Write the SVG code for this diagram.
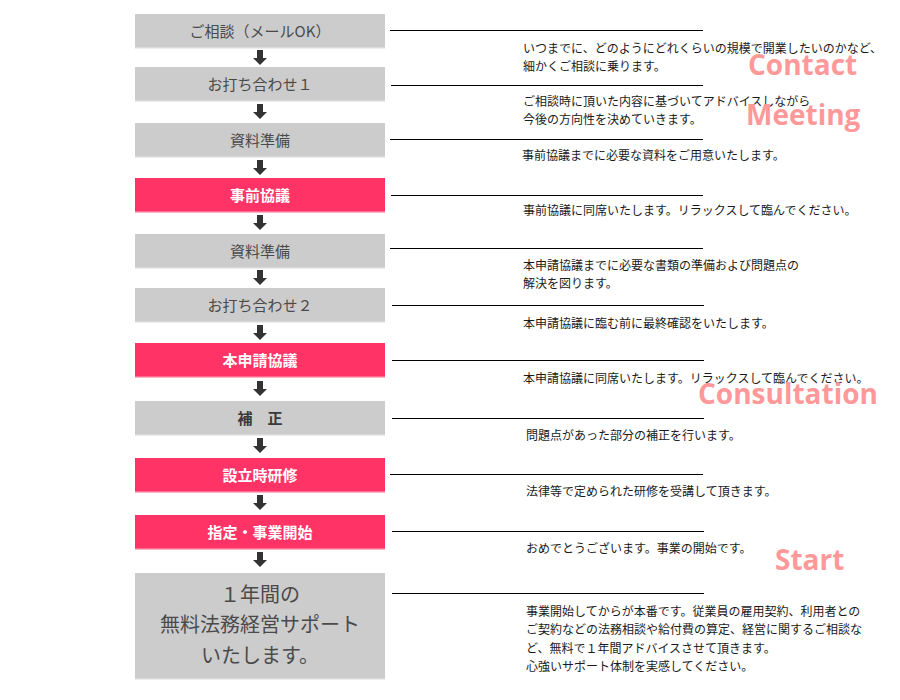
<svg xmlns="http://www.w3.org/2000/svg" width="900" height="700" viewBox="0 0 900 700">
<defs>
<style>
.g{fill:#cccccc}
.p{fill:#ff3366}
.ge{fill:#d9d9d9}
.pe{fill:#ff6b8e}
.lab{font-family:"Noto Sans CJK JP","Noto Sans",sans-serif;font-size:15px;text-anchor:middle;fill:#4a4a4a}
.labw{font-family:"Noto Sans CJK JP","Noto Sans",sans-serif;font-size:15px;text-anchor:middle;fill:#ffffff;font-weight:bold}
.labb{font-family:"Noto Sans CJK JP","Noto Sans",sans-serif;font-size:15px;text-anchor:middle;fill:#3a3a3a;font-weight:bold}
.big{font-family:"Noto Sans CJK JP","Noto Sans",sans-serif;font-size:20px;text-anchor:middle;fill:#4a4a4a}
.d{font-family:"Noto Sans CJK JP","Noto Sans",sans-serif;font-size:12px;fill:#1a1a1a}
.en{font-family:"Open Sans","Liberation Sans",sans-serif;font-size:28px;font-weight:bold;fill:#ff9999}
.ln{stroke:#000;stroke-width:1.2}
.ar{fill:#333333}
</style>
<g id="arrow">
<rect x="-3" y="0" width="6" height="8.5"/>
<polygon points="-7,8 7,8 0,15"/>
</g>
</defs>
<rect width="900" height="700" fill="#ffffff"/>

<g id="n1"><rect class="g" x="135" y="14" width="250" height="34"/><rect class="ge" x="135" y="47" width="250" height="1.5"/><text class="lab" x="260" y="36.7">ご相談（メールOK）</text></g>
<g id="n2"><rect class="g" x="135" y="67" width="250" height="34"/><rect class="ge" x="135" y="100" width="250" height="1.5"/><text class="lab" x="260" y="89.7">お打ち合わせ１</text></g>
<g id="n3"><rect class="g" x="135" y="123" width="250" height="34"/><rect class="ge" x="135" y="156" width="250" height="1.5"/><text class="lab" x="260" y="145.7">資料準備</text></g>
<g id="n4"><rect class="p" x="135" y="178" width="250" height="34"/><rect class="pe" x="135" y="211" width="250" height="1.5"/><text class="labw" x="260" y="200.7">事前協議</text></g>
<g id="n5"><rect class="g" x="135" y="234" width="250" height="34"/><rect class="ge" x="135" y="267" width="250" height="1.5"/><text class="lab" x="260" y="256.7">資料準備</text></g>
<g id="n6"><rect class="g" x="135" y="288" width="250" height="34"/><rect class="ge" x="135" y="321" width="250" height="1.5"/><text class="lab" x="260" y="310.7">お打ち合わせ２</text></g>
<g id="n7"><rect class="p" x="135" y="343" width="250" height="34"/><rect class="pe" x="135" y="376" width="250" height="1.5"/><text class="labw" x="260" y="365.7">本申請協議</text></g>
<g id="n8"><rect class="g" x="135" y="401" width="250" height="34"/><rect class="ge" x="135" y="434" width="250" height="1.5"/><text class="labb" x="260" y="423.7">補　正</text></g>
<g id="n9"><rect class="p" x="135" y="458" width="250" height="34"/><rect class="pe" x="135" y="491" width="250" height="1.5"/><text class="labw" x="260" y="480.7">設立時研修</text></g>
<g id="n10"><rect class="p" x="135" y="515" width="250" height="34"/><rect class="pe" x="135" y="548" width="250" height="1.5"/><text class="labw" x="260" y="537.7">指定・事業開始</text></g>
<g id="n11"><rect class="g" x="135" y="573" width="250" height="106"/><rect class="ge" x="135" y="678" width="250" height="1.5"/>
<text class="big" x="260" y="601.6">１年間の</text>
<text class="big" x="260" y="632">無料法務経営サポート</text>
<text class="big" x="260" y="662.6">いたします。</text></g>

<g id="connectors">
<g class="ar">
<use href="#arrow" x="260" y="50"/>
<use href="#arrow" x="260" y="104"/>
<use href="#arrow" x="260" y="160"/>
<use href="#arrow" x="260" y="215"/>
<use href="#arrow" x="260" y="270"/>
<use href="#arrow" x="260" y="325"/>
<use href="#arrow" x="260" y="381"/>
<use href="#arrow" x="260" y="438"/>
<use href="#arrow" x="260" y="495"/>
<use href="#arrow" x="260" y="552"/>
</g>
<g class="ln">
<line x1="390" y1="30.5" x2="703" y2="30.5"/>
<line x1="391" y1="85.5" x2="703" y2="85.5"/>
<line x1="390" y1="139.5" x2="703" y2="139.5"/>
<line x1="391" y1="195.5" x2="703" y2="195.5"/>
<line x1="390" y1="248.5" x2="703" y2="248.5"/>
<line x1="392" y1="305.5" x2="704" y2="305.5"/>
<line x1="392" y1="360.5" x2="704" y2="360.5"/>
<line x1="392" y1="418.5" x2="704" y2="418.5"/>
<line x1="390" y1="474.5" x2="703" y2="474.5"/>
<line x1="392" y1="531.5" x2="704" y2="531.5"/>
<line x1="392" y1="593.5" x2="704" y2="593.5"/>
</g>
</g>

<g id="descriptions">
<text class="d" x="523" y="52.5">いつまでに、どのようにどれくらいの規模で開業したいのかなど、</text>
<text class="d" x="523" y="70.5">細かくご相談に乗ります。</text>
<text class="d" x="523" y="105.5">ご相談時に頂いた内容に基づいてアドバイスしながら</text>
<text class="d" x="523" y="123.5">今後の方向性を決めていきます。</text>
<text class="d" x="522" y="159.5">事前協議までに必要な資料をご用意いたします。</text>
<text class="d" x="523" y="214.5">事前協議に同席いたします。リラックスして臨んでください。</text>
<text class="d" x="523" y="269.5">本申請協議までに必要な書類の準備および問題点の</text>
<text class="d" x="523" y="287.5">解決を図ります。</text>
<text class="d" x="523" y="327.8">本申請協議に臨む前に最終確認をいたします。</text>
<text class="d" x="523" y="382.5">本申請協議に同席いたします。リラックスして臨んでください。</text>
<text class="d" x="526" y="439.5">問題点があった部分の補正を行います。</text>
<text class="d" x="526" y="496">法律等で定められた研修を受講して頂きます。</text>
<text class="d" x="526" y="552.5">おめでとうございます。事業の開始です。</text>
<text class="d" x="526" y="615.5">事業開始してからが本番です。従業員の雇用契約、利用者との</text>
<text class="d" x="526" y="634">ご契約などの法務相談や給付費の算定、経営に関するご相談な</text>
<text class="d" x="526" y="652.5">ど、無料で１年間アドバイスさせて頂きます。</text>
<text class="d" x="526" y="671">心強いサポート体制を実感してください。</text>
</g>

<g id="labels">
<text class="en" x="748" y="74.5">Contact</text>
<text class="en" x="746" y="124.5">Meeting</text>
<text class="en" x="698" y="403.5">Consultation</text>
<text class="en" x="775" y="570">Start</text>
</g>
</svg>
